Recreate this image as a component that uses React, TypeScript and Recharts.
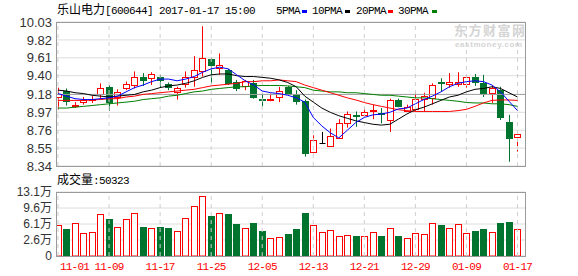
import React from 'react';
import { ComposedChart, Bar, Line, XAxis, YAxis, CartesianGrid, ReferenceLine } from 'recharts';

// trading days shown on the chart
const DATES = [
  '11-01', '11-02', '11-03', '11-04', '11-07', '11-08', '11-09', '11-10', '11-11', '11-14',
  '11-15', '11-16', '11-17', '11-18', '11-21', '11-22', '11-23', '11-24', '11-25', '11-28',
  '11-29', '11-30', '12-01', '12-02', '12-05', '12-06', '12-07', '12-08', '12-09', '12-12',
  '12-13', '12-14', '12-15', '12-16', '12-19', '12-20', '12-21', '12-22', '12-23', '12-26',
  '12-27', '12-28', '12-29', '12-30', '01-03', '01-04', '01-05', '01-06', '01-09', '01-10',
  '01-11', '01-12', '01-13', '01-16', '01-17'
];

const OPEN = [
  9.15, 9.22, 9.04, 9.09, 9.11, 9.18, 9.27, 9.15, 9.25, 9.29,
  9.38, 9.37, 9.38, 9.30, 9.21, 9.30, 9.38, 9.45, 9.60, 9.49,
  9.47, 9.32, 9.28, 9.31, 9.13, 9.12, 9.15, 9.27, 9.19, 9.10,
  8.51, 8.61, 8.57, 8.67, 8.85, 8.94, 8.94, 8.99, 8.96, 8.88,
  9.12, 8.99, 9.01, 9.13, 9.14, 9.32, 9.30, 9.30, 9.30, 9.38,
  9.31, 9.20, 9.23, 8.86, 8.68
];
const HIGH = [
  9.26, 9.25, 9.09, 9.15, 9.16, 9.31, 9.29, 9.24, 9.33, 9.45,
  9.43, 9.44, 9.41, 9.32, 9.27, 9.45, 9.63, 9.98, 9.61, 9.66,
  9.48, 9.35, 9.35, 9.35, 9.19, 9.19, 9.27, 9.28, 9.23, 9.12,
  8.70, 8.74, 8.78, 8.89, 8.98, 8.98, 9.02, 9.06, 9.02, 9.13,
  9.13, 9.06, 9.21, 9.20, 9.31, 9.37, 9.43, 9.44, 9.42, 9.42,
  9.41, 9.28, 9.27, 8.94, 8.74
];
const LOW = [
  9.00, 9.05, 9.02, 9.06, 9.08, 9.12, 8.99, 9.05, 9.23, 9.25,
  9.28, 9.29, 9.26, 9.23, 9.12, 9.26, 9.27, 9.39, 9.31, 9.41,
  9.29, 9.22, 9.23, 9.13, 9.04, 9.10, 9.09, 9.18, 9.06, 8.45,
  8.49, 8.61, 8.57, 8.66, 8.79, 8.80, 8.94, 8.89, 8.84, 8.74,
  9.03, 8.98, 8.98, 8.98, 9.06, 9.22, 9.26, 9.27, 9.26, 9.28,
  9.15, 9.08, 8.88, 8.39, 8.51
];
const CLOSE = [
  9.19, 9.10, 9.06, 9.12, 9.13, 9.25, 9.09, 9.21, 9.30, 9.38,
  9.35, 9.42, 9.35, 9.27, 9.26, 9.38, 9.47, 9.61, 9.52, 9.52,
  9.31, 9.26, 9.34, 9.15, 9.12, 9.13, 9.22, 9.19, 9.10, 8.49,
  8.65, 8.61, 8.69, 8.84, 8.95, 8.93, 8.97, 9.00, 8.95, 9.12,
  9.04, 9.03, 9.13, 9.16, 9.29, 9.31, 9.33, 9.33, 9.38, 9.33,
  9.20, 9.25, 8.92, 8.67, 8.72
];

// volume, in 万手
const VOLUME = [
  5.85, 4.98, 6.21, 4.03, 4.40, 8.24, 7.30, 5.34, 7.30, 8.61,
  5.34, 5.12, 5.34, 5.12, 4.62, 7.52, 9.99, 12.16, 7.81, 8.61,
  8.24, 6.07, 5.12, 6.36, 4.54, 2.95, 3.16, 3.89, 4.98, 8.53,
  5.85, 4.33, 4.69, 3.45, 3.67, 3.45, 3.45, 4.33, 3.45, 5.12,
  3.45, 2.95, 4.11, 3.89, 6.28, 5.85, 5.12, 6.07, 4.11, 4.54,
  4.98, 4.33, 6.28, 6.50, 5.03
];

const MA5 = [
  9.19, 9.16, 9.13, 9.12, 9.12, 9.13, 9.14, 9.16, 9.21, 9.26,
  9.29, 9.33, 9.36, 9.36, 9.34, 9.36, 9.39, 9.44, 9.48, 9.50,
  9.48, 9.41, 9.34, 9.29, 9.22, 9.20, 9.19, 9.17, 9.14, 9.09,
  8.91, 8.81, 8.73, 8.67, 8.76, 8.85, 8.91, 8.94, 8.95, 8.97,
  9.01, 9.02, 9.07, 9.12, 9.16, 9.21, 9.27, 9.31, 9.33, 9.34,
  9.33, 9.29, 9.21, 9.10, 8.99
];
const MA10 = [
  9.23, 9.22, 9.20, 9.19, 9.17, 9.16, 9.15, 9.16, 9.17, 9.18,
  9.21, 9.23, 9.26, 9.28, 9.29, 9.31, 9.34, 9.38, 9.41, 9.42,
  9.42, 9.40, 9.39, 9.39, 9.38, 9.37, 9.35, 9.32, 9.27, 9.16,
  9.09, 9.02, 8.97, 8.93, 8.90, 8.87, 8.85, 8.83, 8.82, 8.83,
  8.89, 8.95, 9.00, 9.03, 9.07, 9.11, 9.15, 9.17, 9.21, 9.24,
  9.25, 9.27, 9.25, 9.20, 9.15
];
const MA20 = [
  9.11, 9.11, 9.11, 9.11, 9.115, 9.12, 9.13, 9.13, 9.15, 9.16,
  9.18, 9.19, 9.20, 9.21, 9.22, 9.23, 9.24, 9.26, 9.28, 9.29,
  9.30, 9.31, 9.33, 9.33, 9.34, 9.34, 9.35, 9.34, 9.33, 9.29,
  9.26, 9.23, 9.20, 9.17, 9.14, 9.115, 9.085, 9.06, 9.04, 9.02,
  9.00, 8.99, 8.98, 8.98, 8.98, 8.98, 8.98, 8.99, 9.005, 9.04,
  9.08, 9.11, 9.115, 9.115, 9.11
];
const MA30 = [
  9.02, 9.02, 9.03, 9.04, 9.05, 9.06, 9.07, 9.08, 9.09, 9.10,
  9.12, 9.13, 9.14, 9.16, 9.17, 9.19, 9.21, 9.22, 9.24, 9.25,
  9.26, 9.27, 9.27, 9.28, 9.285, 9.285, 9.285, 9.28, 9.27, 9.26,
  9.23, 9.22, 9.21, 9.21, 9.20, 9.20, 9.19, 9.18, 9.17, 9.17,
  9.16, 9.15, 9.14, 9.14, 9.13, 9.12, 9.11, 9.10, 9.085, 9.08,
  9.08, 9.07, 9.07, 9.06, 9.04
];

const PRICE_TICKS = [8.34, 8.55, 8.76, 8.97, 9.18, 9.40, 9.61, 9.82, 10.03];
const VOL_TICKS = [-0.9, 2.6, 6.1, 9.6, 13.1];
const X_TICKS = [0, 6, 12, 18, 24, 30, 36, 42, 48, 54];
const X_DOMAIN = [-0.235, 54.88];

const RED = '#ff0000';
const GREEN = '#00732f';
const GRID = '#dcdcdc';
const FRAME = '#9a9a9a';
const MONO = '"Liberation Mono", "DejaVu Sans Mono", monospace';
const CJK = '"Noto Sans CJK SC", sans-serif';

const rows = DATES.map((date, i) => ({
  i,
  date,
  open: OPEN[i],
  high: HIGH[i],
  low: LOW[i],
  close: CLOSE[i],
  vol: VOLUME[i],
  ma5: MA5[i],
  ma10: MA10[i],
  ma20: MA20[i],
  ma30: MA30[i],
}));

const Candle = (props: any) => {
  const { x, y, width, height, payload } = props;
  const { open, close, high, low } = payload;
  const k = height / (high - low);
  const py = (v: number) => y + (high - v) * k;
  const left = Math.round(x) + 0.5;
  const w = Math.round(width) - 1;
  const cx = left + Math.floor(w / 2);
  const color = close > open ? RED : close < open ? GREEN : '#000';
  const top = Math.round(py(Math.max(open, close))) + 0.5;
  const bot = Math.round(py(Math.min(open, close))) + 0.5;
  return (
    <g>
      <line x1={cx} x2={cx} y1={y} y2={y + height} stroke={color} />
      {close === open ? (
        <line x1={left} x2={left + w} y1={top} y2={top} stroke={color} />
      ) : (
        <rect x={left} y={top} width={w} height={Math.max(bot - top, 1)}
          fill={close > open ? '#fff' : GREEN} stroke={color} />
      )}
    </g>
  );
};

const VolBar = (props: any) => {
  const { x, y, width, height, payload } = props;
  const up = payload.close >= payload.open;
  const left = Math.round(x) + 0.5;
  const top = Math.round(y) + 0.5;
  return (
    <rect x={left} y={top} width={Math.round(width) - 1} height={Math.max(Math.round(y + height) - top, 1)}
      fill={up ? '#fff' : GREEN} stroke={up ? RED : GREEN} />
  );
};

const DateTick = (props: any) => {
  const { x, y, payload, index } = props;
  const first = index === 0;
  return (
    <text x={first ? x + 2 : x} y={y + 14} textAnchor={first ? 'start' : 'middle'}
      fill={RED} fontSize={11} fontFamily={MONO} letterSpacing={-0.8}>
      {DATES[payload.value]}
    </text>
  );
};

const vLines = X_TICKS.map((t) => (
  <ReferenceLine key={t} x={t} stroke="#cfcfcf" strokeDasharray="4 4" />
));

const Frame = ({ left, top, width, height }: any) => (
  <div style={{ position: 'absolute', left, top, width, height, boxSizing: 'border-box', border: `1px solid ${FRAME}` }} />
);

export default function App() {
  return (
    <div style={{ position: 'absolute', left: 0, top: 0, width: 578, height: 276, background: '#fff', overflow: 'hidden' }}>
      <div style={{ position: 'absolute', left: 0, top: 170 }}>
        <ComposedChart width={578} height={106} data={rows} margin={{ top: 22, right: 53, bottom: 0, left: 0 }}>
          <CartesianGrid vertical={false} stroke={GRID} />
          <XAxis type="number" dataKey="i" domain={X_DOMAIN} ticks={X_TICKS} height={20} allowDataOverflow
            axisLine={false} tickLine={false} tickSize={0} tickMargin={0} interval={0}
            tick={(p: any) => <DateTick {...p} />} />
          <YAxis type="number" domain={[VOL_TICKS[0], VOL_TICKS[4]]} ticks={VOL_TICKS} width={56} allowDataOverflow
            axisLine={false} tickLine={false} tickSize={2} tickMargin={2} interval={0}
            tick={{ fill: '#333', fontSize: 12, fontFamily: '"Liberation Sans", "Noto Sans CJK SC", sans-serif' }}
            tickFormatter={(v: number) => (v <= 0 ? '0' : `${v}万`)} />
          {vLines}
          <Bar dataKey={(d: any) => [VOL_TICKS[0], d.vol]} barSize={7} shape={<VolBar />} isAnimationActive={false} />
        </ComposedChart>
      </div>
      <div style={{ position: 'absolute', left: 0, top: 0 }}>
        <ComposedChart width={578} height={176} data={rows} margin={{ top: 22, right: 53, bottom: 10, left: 0 }}>
          <CartesianGrid vertical={false} stroke={GRID} />
          <XAxis type="number" dataKey="i" domain={X_DOMAIN} ticks={X_TICKS} hide allowDataOverflow />
          <YAxis type="number" domain={[8.34, 10.03]} ticks={PRICE_TICKS} width={56} allowDataOverflow
            axisLine={false} tickLine={false} tickSize={2} tickMargin={2} interval={0}
            tick={{ fill: '#333', fontSize: 13, fontFamily: '"Liberation Sans", Arial, sans-serif' }}
            tickFormatter={(v: number) => v.toFixed(2)} />
          {vLines}
          <ReferenceLine y={9.18} stroke="#a0a0a0" />
          <Bar dataKey={(d: any) => [d.low, d.high]} barSize={7} shape={<Candle />} isAnimationActive={false} />
          <Line type="linear" dataKey="ma30" stroke="#008000" dot={false} strokeWidth={1} isAnimationActive={false} />
          <Line type="linear" dataKey="ma20" stroke="#ff0000" dot={false} strokeWidth={1} isAnimationActive={false} />
          <Line type="linear" dataKey="ma10" stroke="#000000" dot={false} strokeWidth={1} isAnimationActive={false} />
          <Line type="linear" dataKey="ma5" stroke="#0000ff" dot={false} strokeWidth={1} isAnimationActive={false} />
        </ComposedChart>
      </div>
      <Frame left={56} top={22} width={470} height={145} />
      <Frame left={56} top={192} width={470} height={65} />
      <svg width={578} height={276} style={{ position: 'absolute', left: 0, top: 0 }}>
        <text x={57} y={14} fill="#000">
          <tspan fontFamily={CJK} fontSize={12}>乐山电力</tspan>
          <tspan fontFamily={MONO} fontSize={11} letterSpacing={-0.6}>[600644] 2017-01-17 15:00</tspan>
        </text>
        <g fontFamily={MONO} fontSize={11} letterSpacing={-0.6} fill="#000">
          <text x={276} y={14}>5PMA</text>
          <text x={312} y={14}>10PMA</text>
          <text x={356} y={14}>20PMA</text>
          <text x={398} y={14}>30PMA</text>
        </g>
        <rect x={302} y={10} width={5} height={3} fill="#0000ff" />
        <rect x={345} y={10} width={5} height={3} fill="#000" />
        <rect x={388} y={10} width={5} height={3} fill="#ff0000" />
        <rect x={432} y={10} width={5} height={3} fill="#008000" />
        <text x={454} y={35} fill="#d4d4d4" fontFamily={CJK} fontSize={13} fontWeight="bold" letterSpacing={1.5}>东方财富网</text>
        <text x={455} y={47} fill="#d4d4d4" fontFamily='"Liberation Sans", sans-serif' fontSize={8} fontWeight="bold" letterSpacing={0.6}>eastmoney.com</text>
        <text x={57} y={184} fill="#000">
          <tspan fontFamily={CJK} fontSize={12}>成交量</tspan>
          <tspan fontFamily={MONO} fontSize={11} letterSpacing={-0.6}>:50323</tspan>
        </text>
      </svg>
    </div>
  );
}
